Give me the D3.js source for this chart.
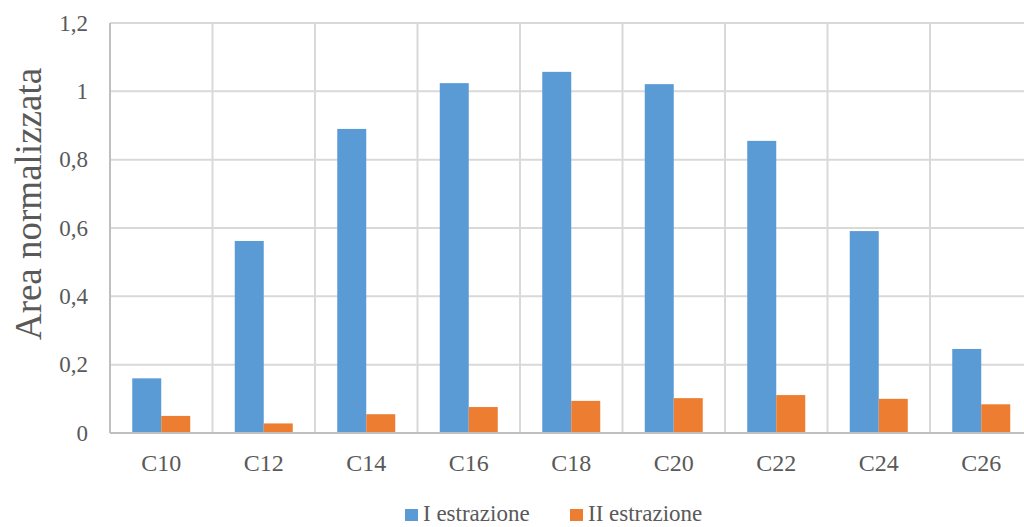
<!DOCTYPE html>
<html><head><meta charset="utf-8">
<script src="https://cdn.jsdelivr.net/npm/d3@7"></script>
<style>body{margin:0;background:#fff;overflow:hidden}svg{display:block}
svg text{font-family:"Liberation Serif","Times New Roman","DejaVu Serif",serif}</style>
</head><body>
<script>
const categories = ["C10","C12","C14","C16","C18","C20","C22","C24","C26"];
const seriesNames = ["I estrazione","II estrazione"];
const estrazione1 = [0.16,0.562,0.89,1.024,1.057,1.021,0.855,0.591,0.246];
const estrazione2 = [0.05,0.028,0.055,0.076,0.094,0.102,0.111,0.10,0.084];
const yTicks = [0,0.2,0.4,0.6,0.8,1,1.2];
const colors = ["#5b9bd5","#ed7d31"];

const W = 1024, H = 527;
const m = {left:110, top:23, right:-8.5, bottom:94};
const svg = d3.select("body").append("svg").attr("width",W).attr("height",H);

const x = d3.scaleBand().domain(categories).range([m.left, W - m.right]).paddingInner(0).paddingOuter(0);
const y = d3.scaleLinear().domain([0,1.2]).range([H - m.bottom, m.top]);

// horizontal gridlines
svg.append("g").selectAll("line").data(yTicks.slice(1)).join("line")
  .attr("x1", m.left).attr("x2", W - m.right)
  .attr("y1", d => y(d)).attr("y2", d => y(d))
  .attr("stroke","#d9d9d9").attr("stroke-width",2);
// vertical gridlines between categories
svg.append("g").selectAll("line").data(categories.slice(1)).join("line")
  .attr("x1", d => x(d)).attr("x2", d => x(d))
  .attr("y1", y(1.2)).attr("y2", y(0))
  .attr("stroke","#d9d9d9").attr("stroke-width",2);

// bars
const barW = 29;
const series = [estrazione1, estrazione2];
series.forEach((vals, si) => {
  svg.append("g").selectAll("rect").data(categories).join("rect")
    .attr("x", (c) => x(c) + x.bandwidth()/2 - barW + si*barW)
    .attr("width", barW)
    .attr("y", (c,i) => y(vals[i]))
    .attr("height", (c,i) => y(0) - y(vals[i]))
    .attr("fill", colors[si]);
});

// axis lines
svg.append("line").attr("x1",m.left).attr("x2",m.left).attr("y1",y(1.2)).attr("y2",y(0))
  .attr("stroke","#bfbfbf").attr("stroke-width",2);
svg.append("line").attr("x1",m.left).attr("x2",W - m.right).attr("y1",y(0)).attr("y2",y(0))
  .attr("stroke","#bfbfbf").attr("stroke-width",2);

// y tick labels
const fmt = d => String(d).replace(".", ",");
svg.append("g").selectAll("text").data(yTicks).join("text")
  .attr("x", 88).attr("y", d => y(d)).attr("dy","0.33em")
  .attr("text-anchor","end").attr("font-size",23)
  .attr("fill","#595959").text(fmt);

// x tick labels
svg.append("g").selectAll("text").data(categories).join("text")
  .attr("x", d => x(d) + x.bandwidth()/2).attr("y", 471)
  .attr("text-anchor","middle").attr("font-size",24)
  .attr("fill","#595959").text(d => d);

// y axis title
svg.append("text").attr("transform",`translate(41,204) rotate(-90)`)
  .attr("text-anchor","middle").attr("font-size",37)
  .attr("fill","#595959").text("Area normalizzata");

// legend
const legX = [405, 570];
seriesNames.forEach((n, i) => {
  svg.append("rect").attr("x", legX[i]).attr("y", 509).attr("width",13).attr("height",12).attr("fill",colors[i]);
  svg.append("text").attr("x", legX[i] + 18).attr("y", 521)
    .attr("font-size",23).attr("fill","#595959").text(n);
});
</script>
</body></html>
